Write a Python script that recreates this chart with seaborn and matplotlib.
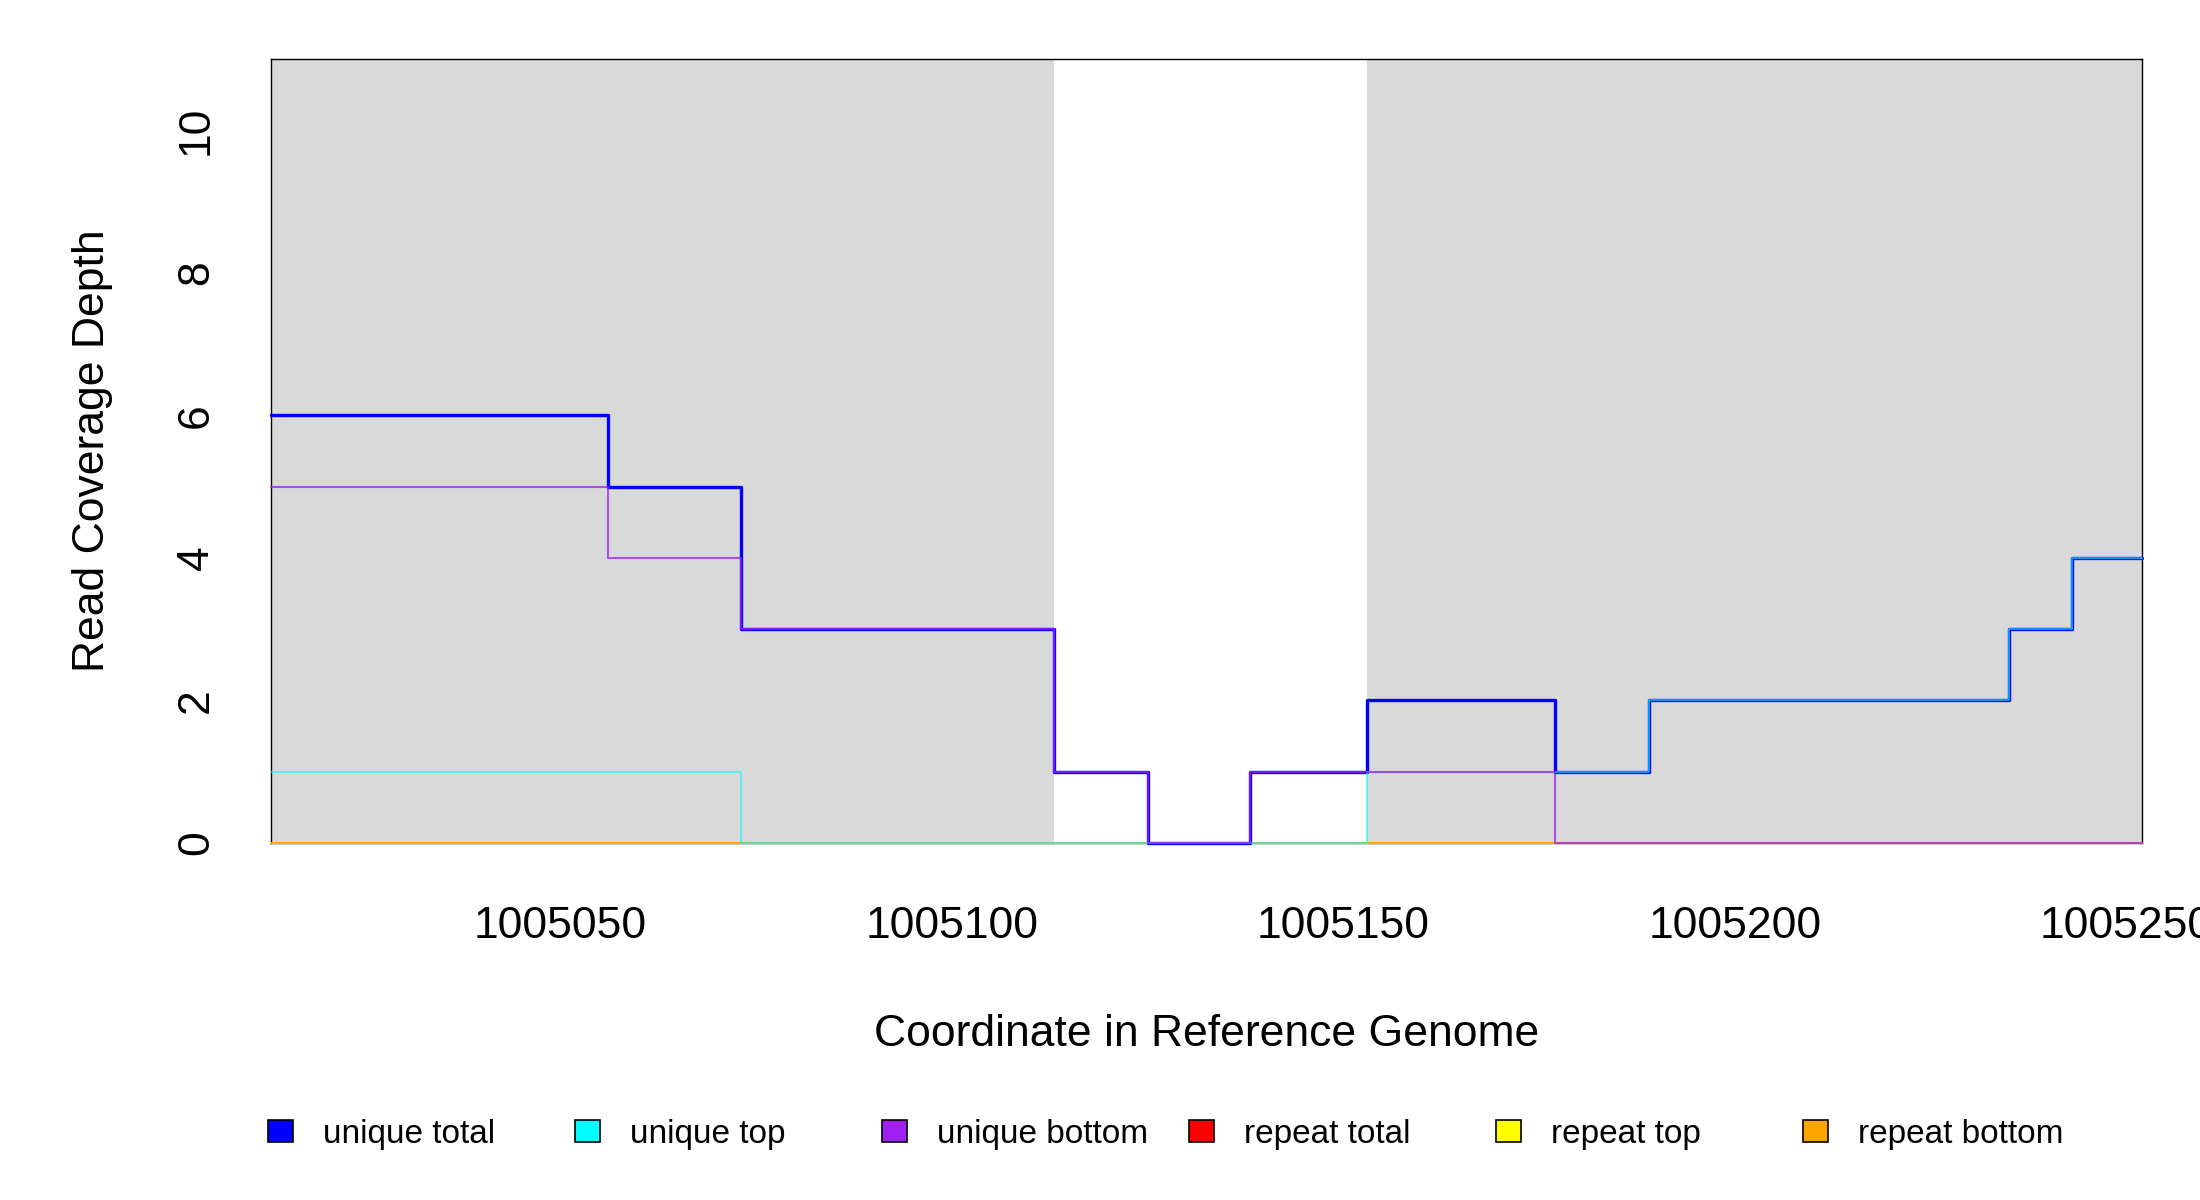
import pandas as pd
import seaborn as sns
import matplotlib.pyplot as plt
from matplotlib.patches import Patch

# step breakpoints along the reference (coverage holds until the next one)
positions = [1005013, 1005056, 1005073, 1005113, 1005125, 1005138,
             1005153, 1005177, 1005189, 1005235, 1005243, 1005252]
unique_total = [6, 5, 3, 1, 0, 1, 2, 1, 2, 3, 4, 4]
unique_top = [1, 1, 0, 0, 0, 0, 1, 1, 2, 3, 4, 4]
unique_bottom = [5, 4, 3, 1, 0, 1, 1, 0, 0, 0, 0, 0]
repeat_total = [0, 0, 0, 0, 0, 0, 0, 0, 0, 0, 0, 0]
repeat_top = [0, 0, 0, 0, 0, 0, 0, 0, 0, 0, 0, 0]
repeat_bottom = [0, 0, 0, 0, 0, 0, 0, 0, 0, 0, 0, 0]

shaded_regions = [(1005013, 1005113), (1005153, 1005252)]
x_ticks = [1005050, 1005100, 1005150, 1005200, 1005250]
y_ticks = [0, 2, 4, 6, 8, 10]

series = {
    "unique total": unique_total,
    "unique top": unique_top,
    "unique bottom": unique_bottom,
    "repeat total": repeat_total,
    "repeat top": repeat_top,
    "repeat bottom": repeat_bottom,
}
colors = {
    "unique total": "#0000FF",
    "unique top": "#00FFFF",
    "unique bottom": "#A020F0",
    "repeat total": "#FF0000",
    "repeat top": "#FFFF00",
    "repeat bottom": "#FFA500",
}
widths = {"unique total": 2.4, "unique top": 1.2, "unique bottom": 1.5,
          "repeat total": 1.3, "repeat top": 1.3, "repeat bottom": 1.3}
alphas = {"unique total": 1.0, "unique top": 0.7, "unique bottom": 0.75,
          "repeat total": 1.0, "repeat top": 1.0, "repeat bottom": 1.0}
draw_order = ["repeat total", "repeat top", "repeat bottom",
              "unique total", "unique top", "unique bottom"]

df = pd.concat(
    [pd.DataFrame({"pos": positions, "depth": v, "series": k}) for k, v in series.items()],
    ignore_index=True,
)

sns.set_style("white")
plt.rcParams["font.family"] = ["Liberation Sans", "DejaVu Sans"]
plt.rcParams["text.color"] = "black"
plt.rcParams["axes.labelcolor"] = "black"

W, H = 2200, 1200
fig = plt.figure(figsize=(22, 12), dpi=100)
ax = fig.add_axes([271 / W, 1 - 843 / H, (2142 - 271) / W, (843 - 59) / H])
ax.set_facecolor("white")

for lo, hi in shaded_regions:
    ax.axvspan(lo, hi, color="#D9D9D9", lw=0, zorder=0)

for name in draw_order:
    sns.lineplot(data=df[df["series"] == name], x="pos", y="depth", ax=ax,
                 color=colors[name], lw=widths[name], alpha=alphas[name],
                 drawstyle="steps-post", estimator=None, legend=False,
                 zorder=3, clip_on=False)

ax.set_xlim(1005013, 1005252)
ax.set_ylim(0, 11)
ax.set_xticks(x_ticks)
ax.set_xticklabels([str(t) for t in x_ticks])
ax.set_yticks(y_ticks)
ax.set_yticklabels([str(t) for t in y_ticks])
ax.tick_params(axis="both", length=19, width=1.1, color="black",
               labelsize=32, direction="out", labelcolor="black")
ax.tick_params(axis="x", pad=26)
ax.tick_params(axis="y", pad=20)
for lbl in ax.get_yticklabels():
    lbl.set_rotation(90)
    lbl.set_va("center")
for s in ax.spines.values():
    s.set_color("black")
    s.set_linewidth(1.0)

ax.set_xlabel("Coordinate in Reference Genome", fontsize=32, color="black")
ax.set_ylabel("Read Coverage Depth", fontsize=32, color="black")
ax.xaxis.set_label_coords(0.5, (843 - 1035) / 784)
ax.xaxis.label.set_va("center")
ax.yaxis.set_label_coords((93 - 271) / 1871, 0.5)
ax.yaxis.label.set_va("center")

legend_labels = ["unique total", "unique top", "unique bottom",
                 "repeat total", "repeat top", "repeat bottom"]
for i, name in enumerate(legend_labels):
    fig.legend(handles=[Patch(facecolor=colors[name], edgecolor="black", linewidth=1.2)],
               labels=[name], loc="center left",
               bbox_to_anchor=((268 + 307 * i) / W, 1 - 1134 / H),
               frameon=False, fontsize=24, handlelength=0.75, handleheight=0.66,
               handletextpad=0.9, borderpad=0, borderaxespad=0,
               labelcolor="black")

fig.savefig("out.png", dpi=100)
